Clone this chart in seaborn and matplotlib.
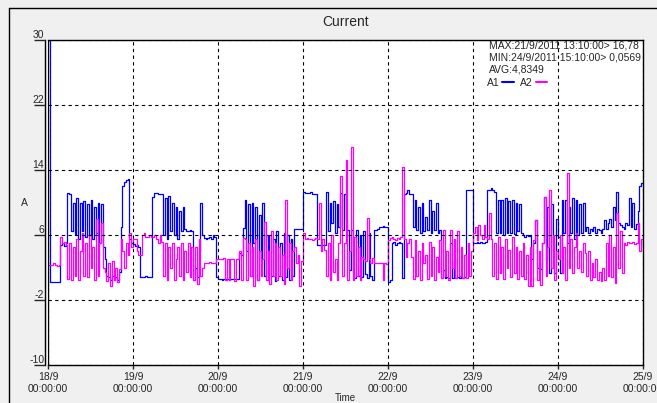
import matplotlib
matplotlib.use("Agg")
import matplotlib.pyplot as plt
import matplotlib.dates as mdates
from matplotlib.lines import Line2D
from matplotlib.ticker import FuncFormatter
import seaborn as sns
import pandas as pd

# half-hour readings, one list per day
a1_sep18 = [30, 0.2, 0.2, 0.2, 0.2, 0.2, 0.2,
            4.8, 5, 4.7, 5,
            11.2, 11, 6.5,
            10, 6, 10.5, 5.5, 10, 6.5, 10.2, 5.8, 9.8, 6, 10.3, 5.5, 9.5, 6.2, 10, 5, 9.8, 4.5,
            3, 1, 0.8, 0.5, 1, 0.5, 0.8, 0.5, 1.5,
            7, 12, 12.5, 12.8, 12.9, 5.5, 5]
a1_sep19 = [4.9, 4.6, 4.8, 4.5,
            0.8, 0.8, 0.8, 1, 0.8, 0.8, 0.8,
            10.7, 11.2, 11.2, 11.1, 11, 11,
            6, 10.5, 5.5, 10.8, 6.5, 10, 6, 9.5, 5.5, 9, 6.5, 9.5, 6.8, 6.5, 6.5, 6.6, 6.5,
            0.5, 2, 0.8, 4, 10, 6,
            5.6, 5.5, 5.6, 5.8, 5.5, 6, 5.8, 0.8]
a1_sep20 = [0.6, 0.6, 0.5, 0.6, 0.6, 0.6, 0.5, 0.6, 0.6, 0.6, 0.6, 0.6,
            3.8, 3.5, 6.9, 10.3,
            4, 9.8, 1, 10, 5, 9.5, 0.5, 8.5, 3, 10, 1, 6,
            0.5, 6, 1, 5.5, 0.3, 6.5, 1, 5, 0.5, 6.3, 0.8, 6, 0.5, 5.5, 1,
            6.8, 6.8, 6.7, 6.8, 6.8]
a1_sep21 = [11.3, 11.2, 11.2, 11.2, 11.3, 11.1, 11, 11,
            4.8, 4.8, 4.7, 4.8, 4.8,
            11.3, 6.5, 10, 7.5, 10.2, 6.3, 9.8, 7, 11.2, 6.6, 11, 8, 6.6,
            1.7, 6.6, 1.5, 0.7, 6.6, 1, 6, 0.8, 6.5, 1.2, 0.7, 6.2, 1, 0.5,
            6.6, 6.6, 6.8, 7, 7, 7.1, 7, 7]
a1_sep22 = [0.2, 0.5,
            5, 5.2, 4.8, 5, 5.1, 5,
            0.7,
            11, 11.2, 11.5, 11, 11,
            7, 10.3, 6.6, 9.5, 6.2, 10, 6.5, 8.2, 6.6, 10.3, 6.2, 9, 6.6, 10, 6.3, 6.6,
            0.7, 1.7, 0.7, 0.8, 0.7, 5, 0.7, 3, 0.7, 0.8, 0.7, 0.9, 0.7, 0.8,
            11.5, 11.5, 11.6, 11.5]
a1_sep23 = [5, 5, 5.2, 5, 5.1, 5, 5, 5.2, 11.5,
            11.6, 11.8, 11.5, 11.3,
            6.2, 10.3, 6.2, 10.3, 6, 10.5, 6.3, 10.2, 6.2, 10.3, 6.1, 10, 6.5, 9.8, 6.2,
            6, 5.8, 6, 5.9, 6,
            3, 5, 7.8, 2, 2.5, 1.8,
            5, 10.7, 3, 9.5, 1.3, 9.8, 5, 1.3, 8]
a1_sep24 = [5.8, 1.3, 10.3,
            6.2, 10.3, 5, 9.5, 6.2, 10.5, 5.5, 10.3, 6, 9.8, 6.2, 10,
            6.5, 7, 6.2, 6.8, 6.5, 7, 6.2, 6.8, 6.6, 6.3, 6.8,
            7.8, 6.8, 7.5, 8, 7, 9.5, 7.8, 11.3,
            7.5, 7.2, 7, 6.8, 7.5, 7.2, 10.5, 7, 10, 6.8, 7.3,
            9, 12, 12.4, 12.4]

a2_sep18 = [2.3, 2.3, 2.3, 2.5, 2.3, 2.2, 2.3,
            5.8, 5, 5.2, 4.8,
            0.6, 5, 0.5, 4.5, 1, 5.5, 0.5, 4, 6.3, 1, 5, 0.8, 6, 2, 4.5, 0.5, 8, 1, 5, 7.5, 2,
            1.5, 0.3, 2.5, -0.3, 2.8, 0.5, 2, 0.2, 1.8,
            5.5, 4, 2, 5, 3.5, 6.3, 4.5]
a2_sep19 = [5.5, 5.5, 4, 3.5,
            3.5, 6, 6.2, 5.8, 5.8, 6, 5.8,
            5.8, 6, 5.5, 5, 6, 5.2,
            1, 5, 0.5, 4.5, 2, 5, 0.5, 3, 4.5, 1, 5, 0.5, 4, 1.5, 5, 0.8, 4.5,
            0.5, 4.5, 0, 5.5, 1, 2,
            2.6, 2.6, 2.5, 2.7, 2.6, 2.5, 2.6, 3]
a2_sep20 = [3.1, 3.1, 3, 3.2, 0.5, 3.1, 0.5, 3, 3.1, 0.4, 3.1, 3.0,
            4, 0.5, 5.6, 5.5,
            0.5, 5, 1, 4.5, -0.3, 5.5, 0.5, 4, 1, 3, 7.6, 0.5,
            4, 0, 6.5, 1, 5, 0.5, 4.5, 1, 3.5, 0, 10.3, 2, 5, 0.5, 4,
            4.5, 2.5, 3.5, -0.3, 2.8]
a2_sep21 = [6.3, 5.5, 5.6, 5.5, 5.5, 5.4, 5.5, 5.6,
            5.5, 9.9, 4, 5.5, 4.2,
            1, 5, 0.5, 6, 1.5, 3, 0.5, 5, 13.3, 1, 5, 15.2, 0.5,
            4, 16.78, 0.5, 5.8, 1, 4.5, 0.5, 3.3, 3, 2.8, 8.1, 3, 2.6, 3.2,
            2.6, 2.6, 2.5, 2.6, 2.6, 0.5, 2.6, 2.4]
a2_sep22 = [5.4, 5.6, 5.7, 5.5, 5.4, 5.6, 5.5, 5.7,
            14.4, 5.5, 3.3, 5, 5.5, 3.3,
            0.6, 5.4, 1, 4, 0.5, 5, 2.6, 3.5, 0.6, 5.2, 1, 4.5, 0.5, 3.3, 1.5, 5.4,
            0.7, 6.6, 1, 4, 0.5, 6.6, 2, 5.5, 0.7, 6.5, 1, 4.5, 0.7, 3.5,
            0.7, 5, 1, 4]
a2_sep23 = [6.3, 7, 5.4, 7.2, 6, 5.5, 7.2, 5.8, 5.5,
            8.7, 5.5, 1, 5,
            0.6, 5.8, 1.3, 4.5, 0.6, 5.5, 2, 4.2, 0.8, 5.8, 1.3, 4.5, 0.6, 4, 1,
            5, 0.6, 3.5, -0.3, 4.5,
            -0.3, 5.4, 7.8, 0.5, 4, -0.2,
            5, 10.7, 1, 4.5, 11.5, 2, 6, 0.5, 4]
a2_sep24 = [3, 6, 1.3,
            4.5, 0.5, 13.6, 2, 5.5, 1.3, 4.5, 6.3, 2, 4, 1.5, 5,
            3.8, 1, 4, 0.5, 2.5, 0.8, 3, 0.5, 1.5, 0.3, 2,
            0.5, 5, 1, 6, 0.8, 4.5, 0.06, 8.7,
            2, 6.5, 1.3, 5, 4.8, 5.2, 5, 5, 5.2, 4.9, 5,
            7.5, 4, 5.5, 4.5]

y_ticks = [-10, -2, 6, 14, 22, 30]
info_lines = ["MAX:21/9/2011 13:10:00> 16,78",
              "MIN:24/9/2011 15:10:00> 0,0569",
              "AVG:4,8349"]

a1 = a1_sep18 + a1_sep19 + a1_sep20 + a1_sep21 + a1_sep22 + a1_sep23 + a1_sep24
a2 = a2_sep18 + a2_sep19 + a2_sep20 + a2_sep21 + a2_sep22 + a2_sep23 + a2_sep24
times = pd.date_range("2011-09-18 00:00", periods=len(a1), freq="30min")
df = pd.DataFrame({"time": times, "A1": a1, "A2": a2})

sns.set_style("white")
plt.rcParams["font.family"] = ["Liberation Sans Narrow", "Liberation Sans", "DejaVu Sans"]
plt.rcParams["axes.unicode_minus"] = False

fig = plt.figure(figsize=(6.57, 4.03), dpi=100, facecolor="#f0f0f0")
ax = fig.add_axes([48 / 657, 1 - 365 / 403, 595 / 657, 325 / 403])
ax.set_facecolor("white")

sns.lineplot(data=df, x="time", y="A1", color="#0000ff", lw=0.9,
             drawstyle="steps-post", ax=ax)
sns.lineplot(data=df, x="time", y="A2", color="#ff00ff", lw=0.9,
             drawstyle="steps-post", ax=ax)

ax.set_xlim(pd.Timestamp("2011-09-18"), pd.Timestamp("2011-09-25"))
ax.set_ylim(-10, 30)
ax.set_yticks(y_ticks)
ax.xaxis.set_major_locator(mdates.DayLocator())
ax.xaxis.set_major_formatter(FuncFormatter(
    lambda v, pos: f"{mdates.num2date(v).day}/{mdates.num2date(v).month}\n00:00:00"))

ax.grid(True, color="black", ls=(0, (3, 3)), lw=0.8)
ax.set_axisbelow(False)

for s in ax.spines.values():
    s.set_color("black")
    s.set_linewidth(1)
ax.spines["left"].set_position(("outward", 2.2))
ax.add_artist(Line2D([0, 0], [0, 1], transform=ax.transAxes, color="black", lw=1))

ax.tick_params(axis="y", length=8, width=1, direction="out", pad=-7.5,
               labelsize=7.5, left=True)
for lab in ax.get_yticklabels():
    lab.set_va("bottom")
ax.tick_params(axis="x", length=3, width=1, direction="out", pad=2,
               labelsize=7.5, bottom=True)

ax.set_title("Current", fontsize=10, pad=10)
ax.set_ylabel("A", rotation=0, fontsize=7.5)
ax.yaxis.set_label_coords(-0.04, 0.5)
ax.yaxis.label.set_va("center")
ax.set_xlabel("Time", fontsize=7)
ax.xaxis.set_label_coords(0.5, -0.101)
ax.xaxis.label.set_va("center")

for i, line in enumerate(info_lines):
    ax.text(0.741, (365 - 46 - 12 * i) / 325, line, transform=ax.transAxes,
            fontsize=7.5, va="center", ha="left", clip_on=True)

handles = [Line2D([], [], color="#0000ff", lw=1.5, label="A1"),
           Line2D([], [], color="#ff00ff", lw=1.5, label="A2")]
ax.legend(handles=handles, loc="center left", bbox_to_anchor=(0.737, (365 - 83) / 325),
          ncol=2, frameon=False, markerfirst=False, handlelength=1.1,
          handletextpad=0.3, columnspacing=0.6, borderpad=0, borderaxespad=0,
          fontsize=7.5)

# window border (left and top edges only are visible)
fig.add_artist(Line2D([9 / 657, 9 / 657], [0, 1 - 8 / 403], transform=fig.transFigure,
                      color="black", lw=1))
fig.add_artist(Line2D([9 / 657, 1], [1 - 8 / 403, 1 - 8 / 403], transform=fig.transFigure,
                      color="black", lw=1))

fig.savefig("out.png", dpi=100, facecolor=fig.get_facecolor())
